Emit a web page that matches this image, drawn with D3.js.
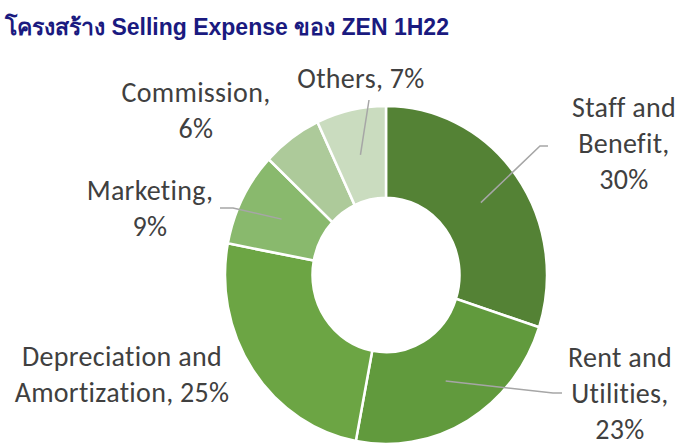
<!DOCTYPE html>
<html>
<head>
<meta charset="utf-8">
<script src="https://cdn.jsdelivr.net/npm/d3@7"></script>
<style>
  body { margin: 0; background: #fff; }
  svg { display: block; }
</style>
</head>
<body>
<svg id="chart" width="682" height="443"></svg>
<script>
// data
categories = ["Staff and Benefit", "Rent and Utilities", "Depreciation and Amortization", "Marketing", "Commission", "Others"]
values = [30, 23, 25, 9, 6, 7]
labelLines = [["Staff and", "Benefit,", "30%"], ["Rent and", "Utilities,", "23%"], ["Depreciation and", "Amortization, 25%"], ["Marketing,", "9%"], ["Commission,", "6%"], ["Others, 7%"]]
colors = ["#548235", "#619a3d", "#6ca544", "#89b96d", "#adca9a", "#cadcbf"]
titleText = "โครงสร้าง Selling Expense ของ ZEN 1H22"

// layout (label spots and leader elbows, Excel style manual placement)
labelPos = [
  {x: 624, y: 117, elbow: [[540, 146], [548, 146]]},
  {x: 620, y: 367, elbow: [[553, 393], [562, 393]]},
  {x: 122, y: 366, elbow: null},
  {x: 150, y: 200, elbow: [[233, 208], [220, 208]]},
  {x: 196, y: 102, elbow: null},
  {x: 361, y: 88, elbow: [[369, 100]]}
]

cx = 386
cy = 275
yStretch = 1.05
outerR = 161
innerR = 73.5

svg = d3.select("#chart")

svg.append("text")
  .attr("x", 5).attr("y", 35)
  .attr("font-family", "'Liberation Sans', Arial, 'Noto Sans', sans-serif")
  .attr("font-weight", "bold")
  .attr("font-size", 23)
  .attr("fill", "#1a1a80")
  .text(titleText)

pie = d3.pie().sort(null).value(d => d)
arcs = pie(values)
arc = d3.arc().innerRadius(innerR).outerRadius(outerR)

donut = svg.append("g").attr("transform", "translate(" + cx + "," + cy + ") scale(1," + yStretch + ")")
donut.selectAll("path").data(arcs).join("path")
  .attr("d", arc)
  .attr("fill", (d, i) => colors[i])
  .attr("stroke", "#fff")
  .attr("stroke-width", 2.5)
  .attr("stroke-linejoin", "miter")

// leader lines from slice centroid
lineGen = d3.line()
leaders = svg.append("g")
arcs.forEach(function(d, i){
  if (!labelPos[i].elbow) return
  c = arc.centroid(d)
  pts = [[cx + c[0], cy + c[1] * yStretch]].concat(labelPos[i].elbow)
  leaders.append("path")
    .attr("d", lineGen(pts))
    .attr("fill", "none")
    .attr("stroke", "#a6a6a6")
    .attr("stroke-width", 1.5)
})

labels = svg.append("g")
  .attr("font-family", "Carlito, Lato, 'Open Sans', sans-serif")
  .attr("font-size", 28)
  .attr("letter-spacing", 0.3)
  .attr("fill", "#404040")
  .attr("text-anchor", "middle")
labelLines.forEach(function(lines, i){
  t = labels.append("text").attr("x", labelPos[i].x).attr("y", labelPos[i].y)
  lines.forEach(function(s, j){
    t.append("tspan").attr("x", labelPos[i].x).attr("y", labelPos[i].y + j * 36).text(s)
  })
})
</script>
</body>
</html>
